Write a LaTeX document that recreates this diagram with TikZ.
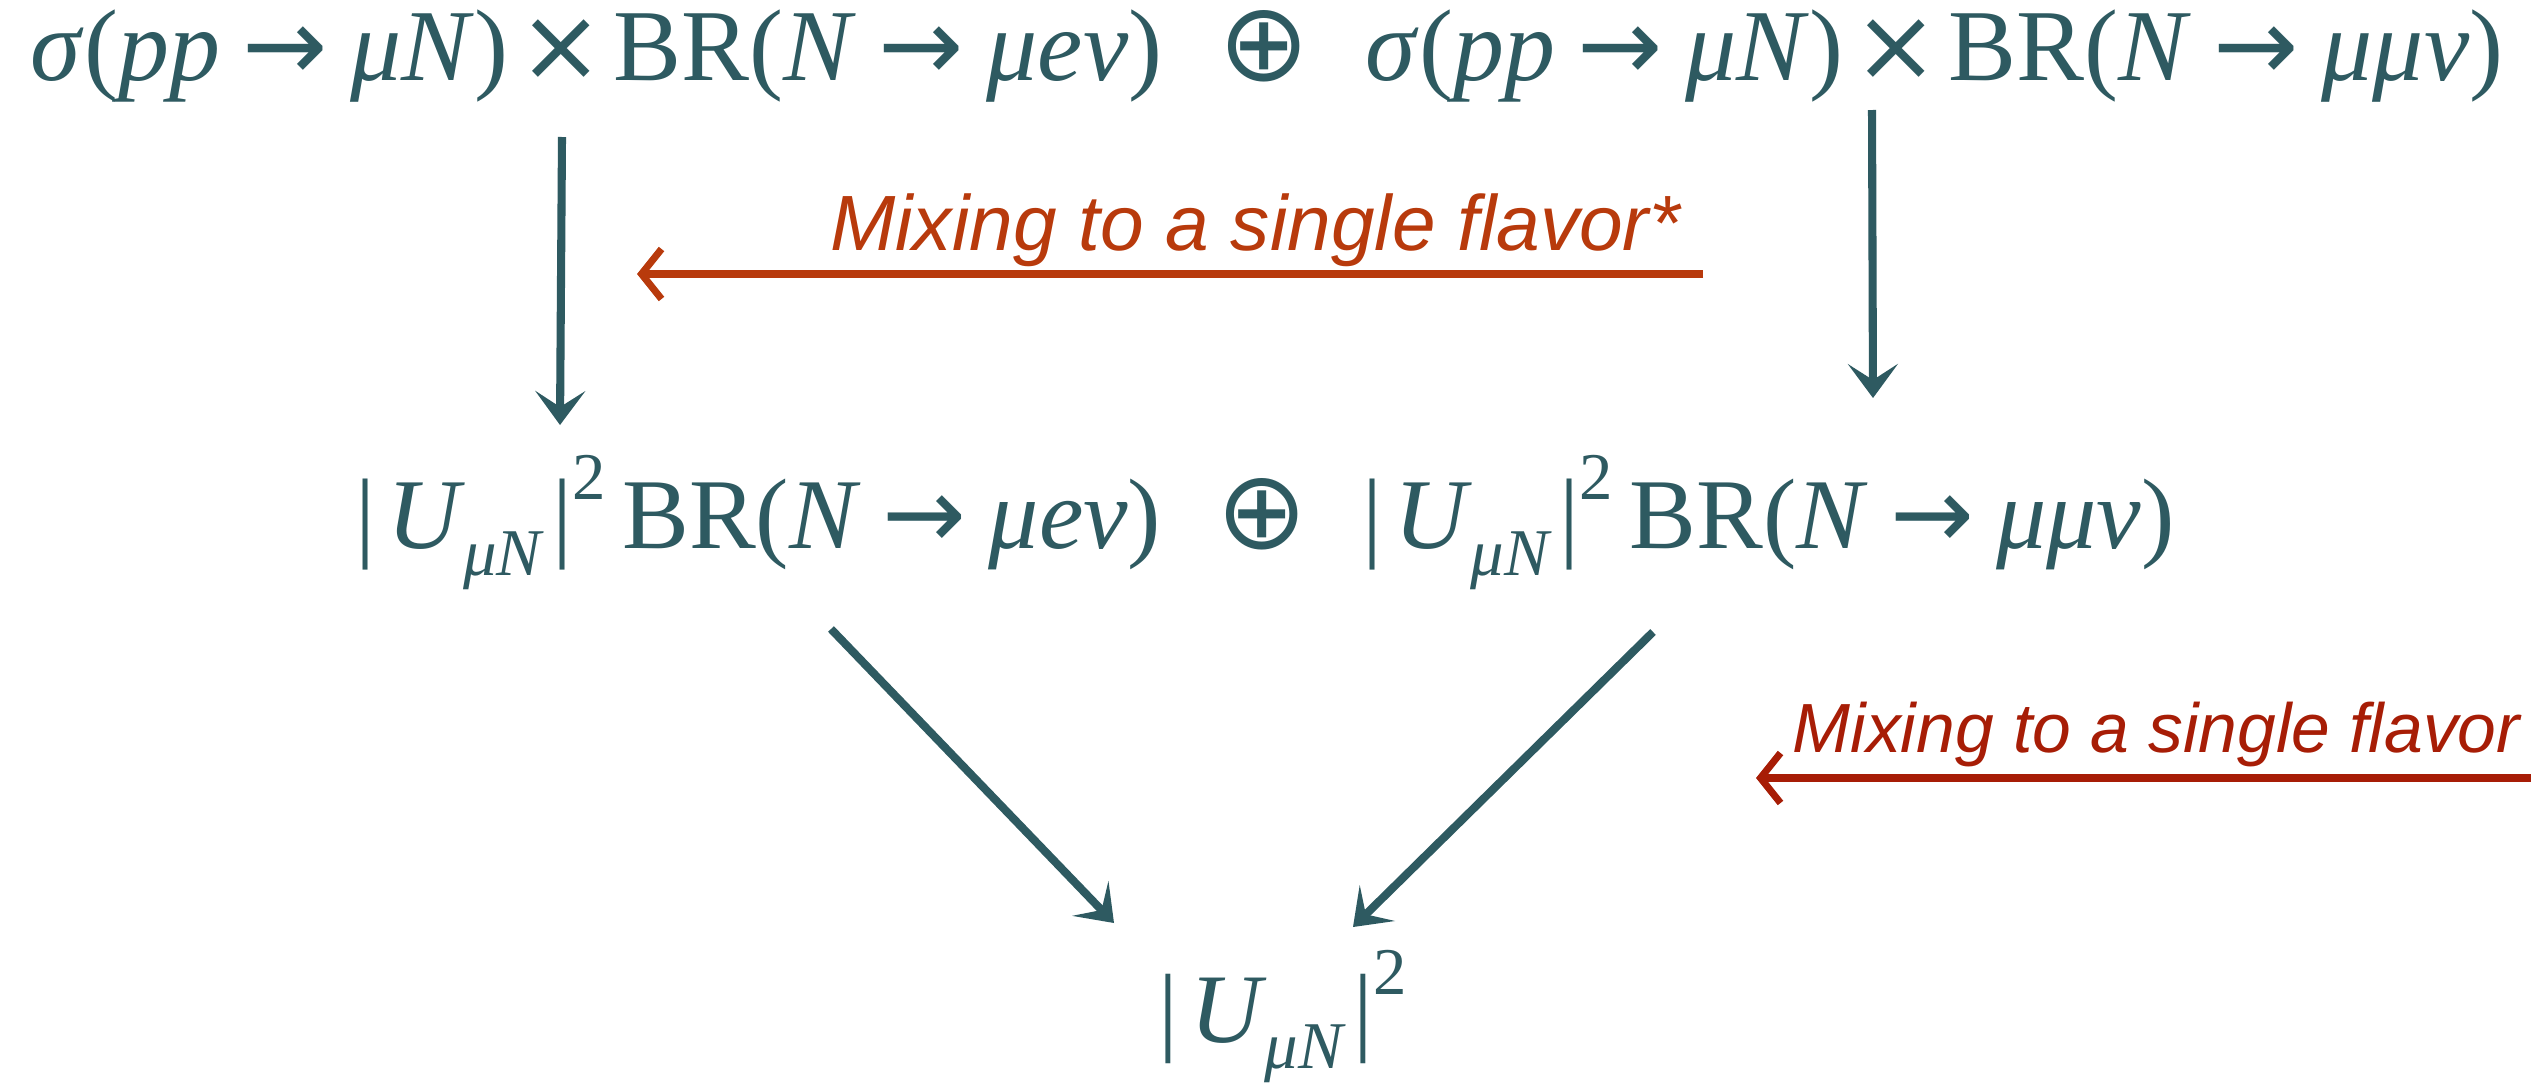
\documentclass[tikz,border=0pt]{standalone}
\usepackage{fontspec}
\setmainfont{Liberation Serif}
\newfontfamily\labelfont{Liberation Sans}
\newfontfamily\symfont{DejaVu Sans}
\usetikzlibrary{arrows.meta}
\definecolor{tealink}{RGB}{46,90,97}
\definecolor{orangeink}{RGB}{184,58,12}
\definecolor{redink}{RGB}{167,29,6}
\newcommand\vi[1]{\textit{#1}}
\newcommand\arr{\hspace{0.22em}{\symfont →}\hspace{0.22em}}
\newcommand\tms{\hspace{0.1em}{\symfont ×}\hspace{0.1em}}
\newcommand\opl{\hspace{0.55em}{\symfont\fontsize{31}{32}\selectfont ⊕}\hspace{0.55em}}
\newcommand\Usq{|\hspace{0.12em}\textit{U}\kern-0.02em\raisebox{-0.27em}{\fontsize{19}{20}\selectfont\textit{μN}}\kern0.08em|\raisebox{0.48em}{\fontsize{19}{20}\selectfont 2}}
\tikzset{
  formula/.style={text=tealink, anchor=base, inner sep=0pt},
  tealarr/.style={draw=tealink, line width=2.3pt, -{Stealth[length=3.4mm,width=5mm,inset=1.6mm]}},
  mixarr/.style={line width=2.4pt, -{Straight Barb[length=2mm,width=5mm,line width=2pt]}},
  mixlabel/.style={anchor=base, inner sep=0pt}
}
\begin{document}
\begin{tikzpicture}
\useasboundingbox[fill=white] (0,0) rectangle (25.31,10.84);
% formulas
\node[formula, font=\fontsize{29}{32}\selectfont] (top) at (12.67,10.04)
  {\vi{σ}(\vi{pp}\arr\vi{μN})\tms BR(\vi{N}\arr\vi{μeν})\opl\vi{σ}(\vi{pp}\arr\vi{μN})\tms BR(\vi{N}\arr\vi{μμν})};
\node[formula, font=\fontsize{28.5}{32}\selectfont] (mid) at (12.65,5.36)
  {\Usq\,BR(\vi{N}\arr\vi{μeν})\opl\Usq\,BR(\vi{N}\arr\vi{μμν})};
\node[formula, font=\fontsize{28}{32}\selectfont] (bot) at (12.83,0.42) {\Usq};
% labels
\node[mixlabel, text=orangeink, font=\labelfont\itshape\fontsize{22.3}{25}\selectfont] (lab1) at (12.55,8.34) {Mixing to a single flavor*};
\node[mixlabel, text=redink, anchor=base west, font=\labelfont\itshape\fontsize{19.8}{23}\selectfont] (lab2) at (17.92,3.32) {Mixing to a single flavor};
% arrow end points
\coordinate (v1s) at (5.62,9.47);  \coordinate (v1e) at (5.60,6.59);
\coordinate (v2s) at (18.72,9.74); \coordinate (v2e) at (18.73,6.86);
\coordinate (d1s) at (8.31,4.55);  \coordinate (d1e) at (11.14,1.61);
\coordinate (d2s) at (16.53,4.52); \coordinate (d2e) at (13.53,1.57);
\coordinate (m1s) at (17.03,8.10); \coordinate (m1e) at (6.37,8.10);
\coordinate (m2s) at (25.31,3.06); \coordinate (m2e) at (17.56,3.06);
% connectors
\draw[tealarr] (v1s) -- (v1e);
\draw[tealarr] (v2s) -- (v2e);
\draw[tealarr] (d1s) -- (d1e);
\draw[tealarr] (d2s) -- (d2e);
\draw[mixarr, draw=orangeink] (m1s) -- (m1e);
\draw[mixarr, draw=redink] (m2s) -- (m2e);
\end{tikzpicture}
\end{document}
